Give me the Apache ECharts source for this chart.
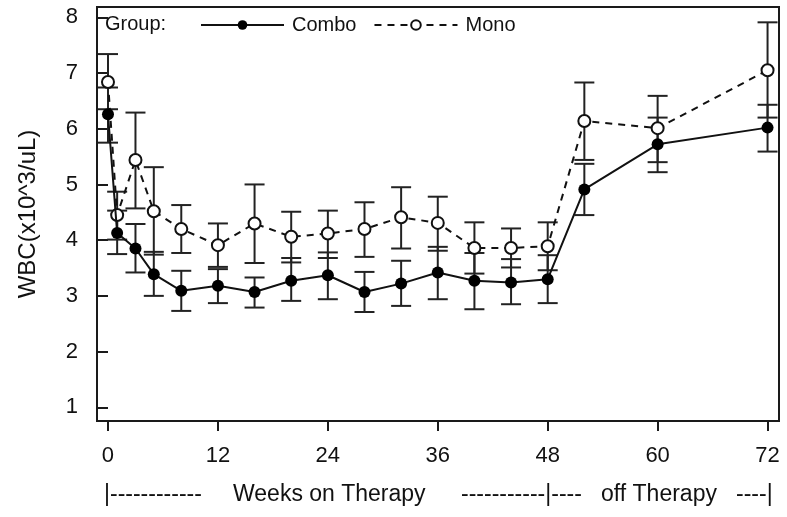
<!DOCTYPE html>
<html>
<head>
<meta charset="utf-8">
<script src="https://cdn.jsdelivr.net/npm/echarts@6/dist/echarts.min.js"></script>
<style>
html,body{margin:0;padding:0;background:#fff;}
#chart{width:787px;height:517px;}
</style>
</head>
<body>
<div id="chart"></div>
<script>
// ---- data ----
const weeks = [0, 1, 3, 5, 8, 12, 16, 20, 24, 28, 32, 36, 40, 44, 48, 52, 60, 72];
const comboMean = [6.26, 4.13, 3.85, 3.39, 3.09, 3.18, 3.07, 3.27, 3.37, 3.07, 3.22, 3.42, 3.27, 3.24, 3.30, 4.91, 5.72, 6.02];
const comboLow  = [5.75, 3.75, 3.42, 3.00, 2.73, 2.87, 2.79, 2.91, 2.94, 2.71, 2.82, 2.94, 2.76, 2.85, 2.87, 4.45, 5.22, 5.59];
const comboHigh = [6.74, 4.53, 4.29, 3.79, 3.45, 3.48, 3.33, 3.68, 3.78, 3.43, 3.63, 3.88, 3.77, 3.66, 3.73, 5.37, 6.20, 6.43];
const monoMean  = [6.84, 4.45, 5.44, 4.52, 4.20, 3.91, 4.30, 4.06, 4.12, 4.20, 4.41, 4.31, 3.86, 3.86, 3.89, 6.14, 6.01, 7.05];
const monoLow   = [6.35, 4.01, 4.57, 3.74, 3.77, 3.52, 3.59, 3.60, 3.68, 3.70, 3.85, 3.81, 3.40, 3.51, 3.46, 5.44, 5.40, 6.20];
const monoHigh  = [7.34, 4.87, 6.29, 5.31, 4.63, 4.30, 5.00, 4.51, 4.53, 4.68, 4.95, 4.78, 4.32, 4.21, 4.32, 6.83, 6.59, 7.91];
const xTicks = [0, 12, 24, 36, 48, 60, 72];
const yTicks = [1, 2, 3, 4, 5, 6, 7, 8];
const seriesNames = ['Combo', 'Mono'];
const legendTitle = 'Group:';
const yTitle = 'WBC(x10^3/uL)';
const bottomPieces = ['|------------', 'Weeks on Therapy', '-----------|----', 'off Therapy', '----|'];

const FONT = '"Liberation Sans", Arial, Helvetica, sans-serif';
const INK = '#111';

function pairs(xs, ys) { return xs.map((x, i) => [x, ys[i]]); }
function bars(xs, lo, hi) { return xs.map((x, i) => [x, lo[i], hi[i]]); }

function errRender(params, api) {
  const x = api.value(0), lo = api.value(1), hi = api.value(2);
  const a = api.coord([x, hi]), b = api.coord([x, lo]);
  const hw = 10;
  const st = { stroke: '#222', lineWidth: 2 };
  return {
    type: 'group',
    children: [
      { type: 'line', shape: { x1: a[0], y1: a[1], x2: b[0], y2: b[1] }, style: st },
      { type: 'line', shape: { x1: a[0] - hw, y1: a[1], x2: a[0] + hw, y2: a[1] }, style: st },
      { type: 'line', shape: { x1: b[0] - hw, y1: b[1], x2: b[0] + hw, y2: b[1] }, style: st }
    ]
  };
}

const bottomX = [104, 233, 461, 601, 736];

const chart = echarts.init(document.getElementById('chart'), null, { renderer: 'canvas' });
chart.setOption({
  backgroundColor: '#fff',
  animation: false,
  textStyle: { fontFamily: FONT, color: INK },
  grid: { left: 97, right: 8, top: 7, bottom: 96, show: true, borderColor: '#1a1a1a', borderWidth: 2, backgroundColor: 'transparent' },
  legend: {
    data: seriesNames,
    left: 195, top: 10,
    itemWidth: 83, itemHeight: 12, itemGap: 17,
    textStyle: { fontFamily: FONT, fontSize: 20, color: INK, padding: [0, 0, 0, 3] },
    selectedMode: false
  },
  graphic: [
    { type: 'text', left: 105, top: 14, style: { text: legendTitle, font: '20px ' + FONT, fill: INK } }
  ].concat(bottomPieces.map((t, i) => ({
    type: 'text', x: bottomX[i], y: 495,
    style: { text: t, font: '23px ' + FONT, fill: INK, verticalAlign: 'middle', align: 'left' }
  }))),
  xAxis: {
    type: 'value', min: -1.2, max: 73.25,
    splitLine: { show: false },
    axisLine: { show: false },
    axisTick: { show: true, customValues: xTicks, length: 10, lineStyle: { color: '#1a1a1a', width: 2 } },
    axisLabel: { customValues: xTicks, fontSize: 22, color: INK, margin: 24, fontFamily: FONT }
  },
  yAxis: {
    type: 'value', min: 0.754, max: 8.185,
    name: yTitle, nameLocation: 'middle', nameGap: 57,
    nameTextStyle: { fontSize: 24, color: INK, fontFamily: FONT },
    splitLine: { show: false },
    axisLine: { show: false },
    axisTick: { show: true, customValues: yTicks, length: 11, lineStyle: { color: '#1a1a1a', width: 2 } },
    axisLabel: { customValues: yTicks, fontSize: 22, color: INK, margin: 19, fontFamily: FONT }
  },
  series: [
    { type: 'custom', name: 'comboErr', renderItem: errRender, data: bars(weeks, comboLow, comboHigh), encode: { x: 0, y: [1, 2] }, z: 2, silent: true },
    { type: 'custom', name: 'monoErr', renderItem: errRender, data: bars(weeks, monoLow, monoHigh), encode: { x: 0, y: [1, 2] }, z: 2, silent: true },
    {
      type: 'line', name: seriesNames[1], data: pairs(weeks, monoMean), z: 3,
      symbol: 'emptyCircle', symbolSize: 12,
      lineStyle: { color: '#111', width: 2, type: [7, 6] },
      itemStyle: { color: '#111', borderWidth: 2 }
    },
    {
      type: 'line', name: seriesNames[0], data: pairs(weeks, comboMean), z: 4,
      symbol: 'circle', symbolSize: 12,
      lineStyle: { color: '#111', width: 2 },
      itemStyle: { color: '#000' }
    }
  ]
});
</script>
</body>
</html>
